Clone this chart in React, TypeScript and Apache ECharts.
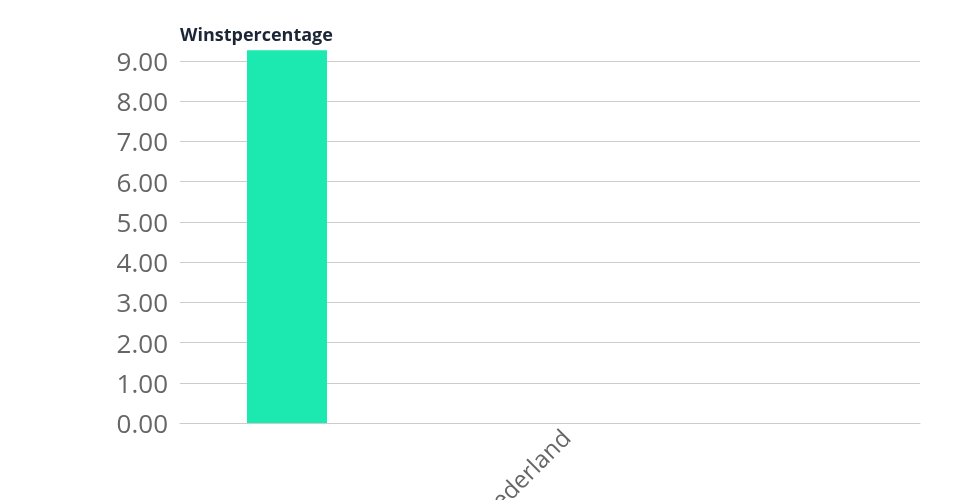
import React, { useEffect, useRef } from "react";
import * as echarts from "echarts";

const categories = ["Nederland"];
const seriesNames = ["Winstpercentage", "Serie 2", "Serie 3"];
const seriesValues: (number | null)[][] = [[9.27], [null], [null]];
const yTicks = { min: 0, max: 9, interval: 1 };
const barColors = ["#1be9b0", "#5470c6", "#91cc75"];

export default function App() {
  const ref = useRef<HTMLDivElement>(null);
  useEffect(() => {
    if (!ref.current) return;
    const chart = echarts.init(ref.current, null, { renderer: "svg" });
    chart.setOption({
      animation: false,
      grid: {
        left: 180,
        right: 40,
        top: 61,
        bottom: 77,
        containLabel: false,
        outerBoundsMode: "none",
      },
      xAxis: {
        type: "category",
        data: categories,
        axisTick: { show: false },
        axisLine: { lineStyle: { color: "#cccccc" } },
        axisLabel: {
          rotate: 45,
          fontFamily: "Open Sans",
          fontSize: 24,
          lineHeight: 22,
          color: "#666666",
          margin: 10,
          padding: [0, -11, 0, 0],
          formatter: (v: string) => "\n" + v,
        },
      },
      yAxis: {
        type: "value",
        min: yTicks.min,
        max: yTicks.max,
        interval: yTicks.interval,
        name: "Winstpercentage",
        nameLocation: "end",
        nameGap: 27,
        nameTextStyle: {
          align: "left",
          verticalAlign: "middle",
          fontFamily: "Open Sans",
          fontWeight: "bold",
          fontSize: 18,
          color: "#1c2536",
        },
        axisLine: { show: false },
        axisTick: { show: false },
        splitLine: { lineStyle: { color: "#cccccc" } },
        axisLabel: {
          fontFamily: "Open Sans",
          fontSize: 26,
          color: "#666666",
          margin: 12,
          formatter: (v: number) => v.toFixed(2),
        },
      },
      series: seriesNames.map((name, i) => ({
        name,
        type: "bar",
        data: seriesValues[i],
        barWidth: 80,
        barGap: "228.75%",
        clip: false,
        itemStyle: { color: barColors[i] },
      })),
    });
    return () => chart.dispose();
  }, []);
  return (
    <div
      ref={ref}
      style={{ position: "fixed", left: 0, top: 0, width: 960, height: 500 }}
    />
  );
}
